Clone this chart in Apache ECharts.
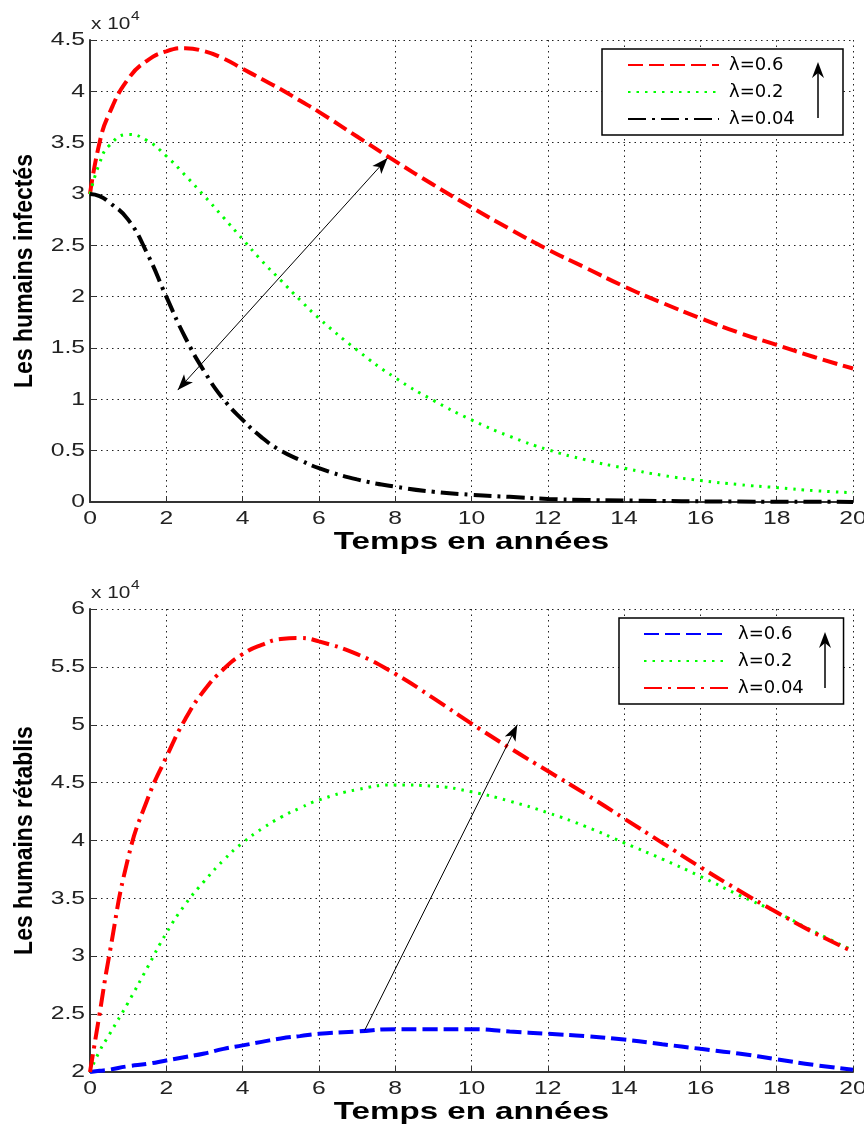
<!DOCTYPE html>
<html><head><meta charset="utf-8">
<script src="https://cdn.jsdelivr.net/npm/echarts@6/dist/echarts.min.js"></script>
<style>html,body{margin:0;padding:0;background:#fff}#c{width:864px;height:1124px}</style>
</head><body><div id="c"></div>
<script>
// ---- data (values in units of 10^4) ----
const years = [0,0.25,0.5,1,1.5,2,2.5,3,3.5,4,4.5,5,5.5,6,7,8,9,10,11,12,13,14,15,16,17,18,19,20];
const xTicks = [0,2,4,6,8,10,12,14,16,18,20];
const yTicksTop = [0,0.5,1,1.5,2,2.5,3,3.5,4,4.5];
const yTicksBot = [2,2.5,3,3.5,4,4.5,5,5.5,6];
const lambdaNames = ['λ=0.6','λ=0.2','λ=0.04'];
const xTitle = 'Temps en années';
const yTitles = ['Les humains infectés', 'Les humains rétablis'];

const infected06 = [3.0,3.5,3.78,4.12,4.30,4.39,4.42,4.39,4.32,4.22,4.12,4.02,3.91,3.80,3.56,3.32,3.09,2.87,2.66,2.46,2.28,2.10,1.94,1.79,1.65,1.53,1.41,1.30];
const infected02 = [3.0,3.3,3.47,3.58,3.52,3.37,3.18,2.98,2.77,2.56,2.35,2.16,1.97,1.79,1.48,1.21,0.99,0.80,0.64,0.51,0.41,0.33,0.26,0.21,0.17,0.14,0.11,0.09];
const infected004 = [3.0,2.98,2.92,2.75,2.42,2.0,1.6,1.27,1.0,0.80,0.63,0.50,0.41,0.33,0.22,0.15,0.10,0.07,0.05,0.03,0.02,0.015,0.01,0.006,0.004,0.003,0.002,0.001];

const recovered06 = [2.0,2.01,2.02,2.05,2.07,2.10,2.13,2.16,2.2,2.23,2.26,2.29,2.31,2.33,2.35,2.37,2.37,2.37,2.35,2.33,2.31,2.28,2.24,2.20,2.16,2.11,2.06,2.02];
const recovered02 = [2.0,2.18,2.32,2.6,2.9,3.2,3.45,3.65,3.83,3.98,4.1,4.2,4.28,4.35,4.44,4.48,4.47,4.42,4.34,4.24,4.12,3.98,3.84,3.69,3.53,3.38,3.21,3.05];
const recovered004 = [2.0,2.5,3.0,3.85,4.35,4.72,5.05,5.3,5.48,5.61,5.69,5.74,5.75,5.72,5.61,5.44,5.23,5.01,4.8,4.6,4.4,4.19,3.98,3.77,3.57,3.38,3.2,3.04];

// annotation arrows (data coordinates)
const arrowTop = [[7.8,3.35],[2.3,1.09]];
const arrowBot = [[7.2,2.36],[11.2,5.0]];

// ---- chart ----
const FONT = '"Liberation Sans", Arial, sans-serif';
const S = 1.3; // horizontal stretch of the reference's text
const chart = echarts.init(document.getElementById('c'));
function pairs(ys){ return years.map((x,i)=>[x, ys[i]]); }

const gridLine = {show:true, lineStyle:{color:'#222', type:[1.5,4], width:1}};
function xAxis(gi){
  return { gridIndex:gi, type:'value', min:xTicks[0], max:xTicks[xTicks.length-1], interval:xTicks[1]-xTicks[0],
    axisLine:{show:true, onZero:false, lineStyle:{color:'#333', width:2}},
    axisTick:{show:true, inside:true, length:6, lineStyle:{color:'#333'}},
    axisLabel:{show:false}, splitLine:gridLine };
}
function yAxis(gi, ticks){
  return { gridIndex:gi, type:'value', min:ticks[0], max:ticks[ticks.length-1], interval:ticks[1]-ticks[0],
    axisLine:{show:true, onZero:false, lineStyle:{color:'#333', width:2}},
    axisTick:{show:true, inside:true, length:6, lineStyle:{color:'#333'}},
    axisLabel:{show:false}, splitLine:gridLine };
}
function line(name, gi, ys, color, type, width){
  return { name:name, type:'line', xAxisIndex:gi, yAxisIndex:gi, data:pairs(ys), smooth:true,
    showSymbol:false, symbol:'none', lineStyle:{color:color, type:type, width:width}, itemStyle:{color:color} };
}
function arrowMark(pts, symbols){
  return { silent:true, animation:false, symbol:symbols, symbolSize:[9,16],
    label:{show:false}, lineStyle:{color:'#000', width:1, type:'solid'},
    data:[[{coord:pts[0]},{coord:pts[1]}]] };
}
const botNames = lambdaNames.map(n => n + ' ');
const sTop = [
  line(lambdaNames[0], 0, infected06, '#ff0000', [15,6], 4),
  line(lambdaNames[1], 0, infected02, '#00ff00', [2.5,6], 3),
  line(lambdaNames[2], 0, infected004, '#000000', [18,6,3,6], 4)
];
sTop[0].markLine = arrowMark(arrowTop, ['arrow','arrow']);
const sBot = [
  line(botNames[0], 1, recovered06, '#0000ff', [15,6], 4),
  line(botNames[1], 1, recovered02, '#00ff00', [2.5,6], 3),
  line(botNames[2], 1, recovered004, '#ff0000', [18,6,3,6], 4)
];
sBot[0].markLine = arrowMark(arrowBot, ['none','arrow']);

function legend(names, left, top, pad, w){
  return { data:names, orient:'vertical', left:left, top:top, padding:pad, itemWidth:w, itemHeight:14, itemGap:9,
    selectedMode:false, borderColor:'#000', borderWidth:1.5, backgroundColor:'#fff', z:20,
    itemStyle:{opacity:0},
    textStyle:{fontFamily:'"DejaVu Sans", sans-serif', fontSize:18, lineHeight:18, color:'#000', width:70, padding:[0,0,0,5]} };
}
function upArrow(x, yBottom, yTop){
  return [
    {type:'line', z:100, shape:{x1:x, y1:yBottom, x2:x, y2:yTop+10}, style:{stroke:'#000', lineWidth:1.5}},
    {type:'polygon', z:100, shape:{points:[[x,yTop],[x-6,yTop+16],[x,yTop+11],[x+6,yTop+16]]}, style:{fill:'#000'}}
  ];
}

chart.setOption({
  animation:false,
  backgroundColor:'#fff',
  grid:[{left:90, right:11, top:40, height:462}, {left:90, right:11, top:609, height:463}],
  xAxis:[xAxis(0), xAxis(1)],
  yAxis:[yAxis(0, yTicksTop), yAxis(1, yTicksBot)],
  legend:[legend(lambdaNames, 602, 49, [7,44,7,25], 91), legend(botNames, 619, 618, [7,34,7,24], 84)],
  series: sTop.concat(sBot)
});

// text drawn with the reference's horizontal stretch, positioned through the axes' scales
const g = [].concat(upArrow(818,118,62), upArrow(825,688,632));
function txt(x, y, text, o){
  return {type:'text', z:100, x:x, y:y, scaleX:o.sx||S, scaleY:o.sy||1, rotation:o.rot||0,
    style:{text:text, fontFamily:FONT, fontSize:o.size||19, fontWeight:o.bold?'bold':'normal', fill:o.color||'#222',
      align:o.align||'center', verticalAlign:o.va||'middle'}};
}
[yTicksTop, yTicksBot].forEach((yt, gi) => {
  const y0 = yt[0], y1 = yt[yt.length-1];
  const x0 = xTicks[0], x1 = xTicks[xTicks.length-1];
  xTicks.forEach(v => {
    const p = chart.convertToPixel({gridIndex:gi}, [v, y0]);
    g.push(txt(p[0], p[1]+7, String(v), {va:'top'}));
  });
  yt.forEach(v => {
    const p = chart.convertToPixel({gridIndex:gi}, [x0, v]);
    g.push(txt(p[0]-5, p[1], String(v), {align:'right'}));
  });
  const pb = chart.convertToPixel({gridIndex:gi}, [(x0+x1)/2, y0]);
  g.push(txt(pb[0], pb[1]+40, xTitle, {size:24, bold:true, color:'#000', sx:1.38}));
  const pl = chart.convertToPixel({gridIndex:gi}, [x0, (y0+y1)/2]);
  g.push(txt(pl[0]-65, pl[1], yTitles[gi], {size:23, bold:true, color:'#000', rot:Math.PI/2, sx:1, sy:1.15}));
  const pt = chart.convertToPixel({gridIndex:gi}, [x0, y1]);
  g.push(txt(pt[0]+1, pt[1]-15, 'x 10', {align:'left', size:16, sx:1.3}));
  g.push(txt(pt[0]+41, pt[1]-23, '4', {align:'left', size:12, sx:1.3}));
});
chart.setOption({graphic: g});
</script></body></html>
